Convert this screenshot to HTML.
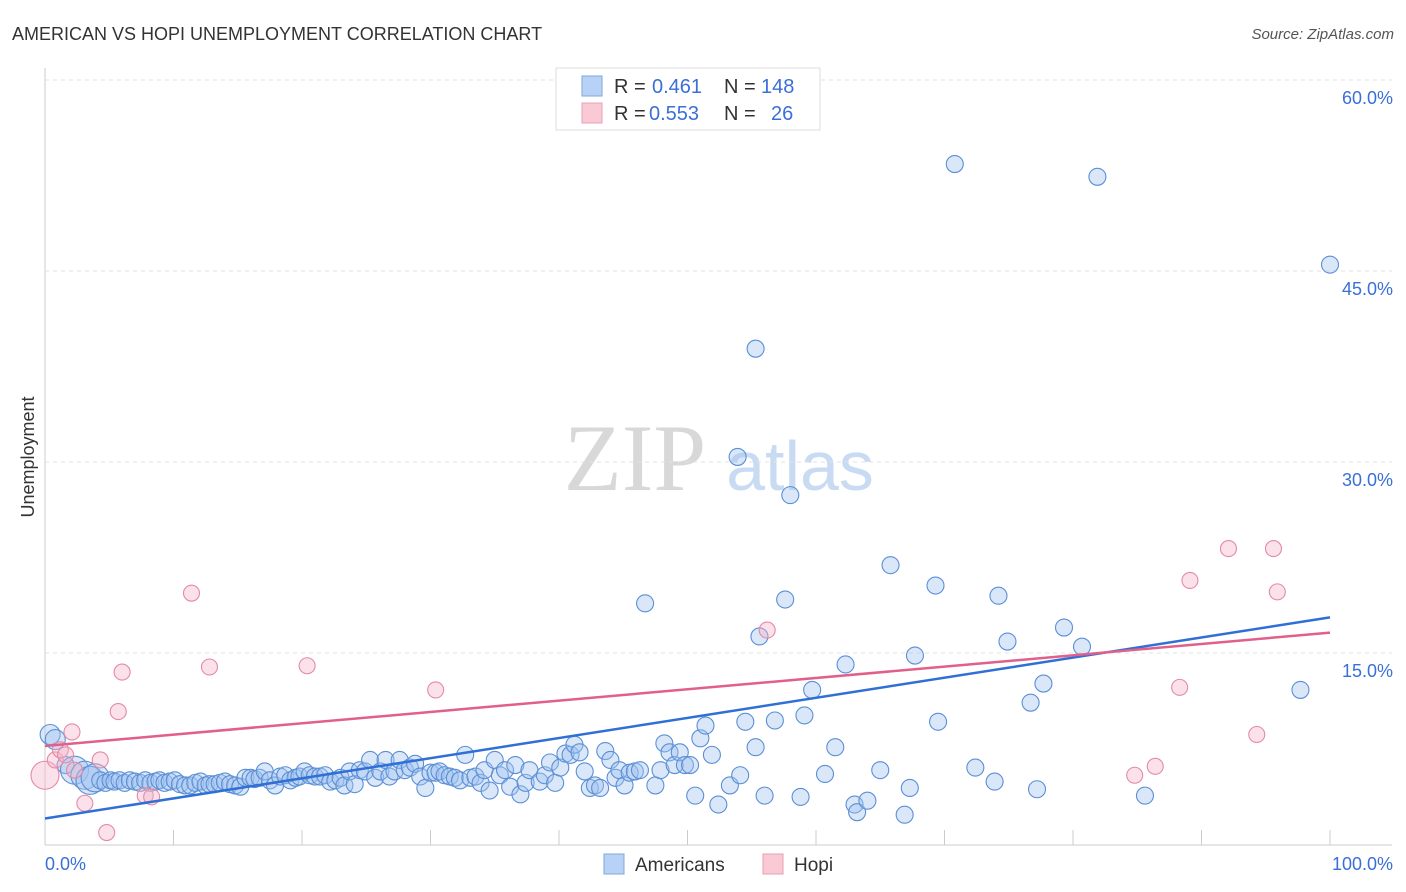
<!DOCTYPE html>
<html><head><meta charset="utf-8"><style>
body{margin:0;background:#fff;font-family:"Liberation Sans",sans-serif;}
svg{display:block}
</style></head><body>
<svg id="chart" width="1406" height="892" xmlns="http://www.w3.org/2000/svg">
<text x="12" y="40" font-size="18" fill="#333">AMERICAN VS HOPI UNEMPLOYMENT CORRELATION CHART</text>
<text x="1394" y="39" font-size="15" fill="#555" font-style="italic" text-anchor="end">Source: ZipAtlas.com</text>
<text x="34" y="457" font-size="18" fill="#333" transform="rotate(-90 34 457)" text-anchor="middle">Unemployment</text>
<g>
<text x="635" y="490" font-size="95" fill="#d8d8d8" font-family="Liberation Serif,serif" text-anchor="middle">ZIP</text>
<text x="800" y="490" font-size="70" fill="#c9dbf3" text-anchor="middle">atlas</text>
</g>
<g id="grid"></g><g id="lines"></g><g id="pts"></g>
<g>
<rect x="556" y="68" width="264" height="62" fill="#fff" stroke="#ddd"/>
<rect x="582" y="76" width="20" height="20" fill="#b8d2f5" stroke="#7fa7e0"/>
<rect x="582" y="103" width="20" height="20" fill="#f9c9d6" stroke="#e8a0b6"/>
<g font-size="20" fill="#333">
<text x="614" y="93">R =</text><text x="652" y="93" fill="#3a6fd8">0.461</text><text x="724" y="93">N =</text><text x="761" y="93" fill="#3a6fd8">148</text>
<text x="614" y="120">R =</text><text x="649" y="120" fill="#3a6fd8">0.553</text><text x="724" y="120">N =</text><text x="771" y="120" fill="#3a6fd8">26</text>
</g>
</g>
<g>
<rect x="604" y="854" width="20" height="20" fill="#b8d2f5" stroke="#7fa7e0"/>
<text x="635" y="871" font-size="19" fill="#333">Americans</text>
<rect x="763" y="854" width="20" height="20" fill="#f9c9d6" stroke="#e8a0b6"/>
<text x="794" y="871" font-size="19" fill="#333">Hopi</text>
</g>
</svg>
<script>
const blueX=[0.4,0.8,1.6,2.3,3.1,3.5,3.9,4.3,4.7,5.1,5.4,5.8,6.2,6.6,7.0,7.4,7.8,8.2,8.6,8.9,9.3,9.7,10.1,10.5,10.9,11.3,11.7,12.1,12.5,12.8,13.2,13.6,14.0,14.4,14.8,15.2,15.6,16.0,16.3,16.7,17.1,17.5,17.9,18.3,18.7,19.1,19.5,19.8,20.2,20.6,21.0,21.4,21.8,22.2,22.6,23.0,23.3,23.7,24.1,24.5,24.9,25.3,25.7,26.1,26.5,26.8,27.2,27.6,28.0,28.4,28.8,29.2,29.6,30.0,30.4,30.7,31.1,31.5,31.9,32.3,32.7,33.1,33.5,33.9,34.2,34.6,35.0,35.4,35.8,36.2,36.6,37.0,37.4,37.7,38.5,38.9,39.3,39.7,40.1,40.5,40.9,41.2,41.6,42.0,42.4,42.8,43.2,43.6,44.0,44.4,44.7,45.1,45.5,45.9,46.3,46.7,47.5,47.9,48.2,48.6,49.0,49.4,49.8,50.2,50.6,51.0,51.4,51.9,52.4,53.3,53.9,54.1,54.5,55.3,55.3,55.6,56.0,56.8,57.6,58.0,58.8,59.1,59.7,60.7,61.5,62.3,63.0,63.2,64.0,65.0,65.8,66.9,67.3,67.7,69.3,69.5,70.8,72.4,73.9,74.2,74.9,76.7,77.2,77.7,79.3,80.7,81.9,85.6,97.7,100];
const blueY=[8.6,8.2,6.2,5.8,5.4,5.0,5.2,5.0,4.8,5.0,4.9,5.0,4.8,5.0,4.9,4.8,5.0,4.8,4.9,5.0,4.8,4.9,5.0,4.7,4.6,4.6,4.8,4.9,4.6,4.7,4.7,4.8,4.9,4.7,4.6,4.5,5.2,5.2,5.1,5.2,5.7,5.0,4.6,5.3,5.4,5.0,5.2,5.3,5.7,5.4,5.3,5.3,5.4,4.9,5.0,5.2,4.6,5.7,4.7,5.8,5.7,6.6,5.2,5.7,6.6,5.3,5.7,6.6,5.8,6.0,6.3,5.3,4.4,5.6,5.6,5.7,5.4,5.3,5.2,5.0,7.0,5.2,5.3,4.8,5.8,4.2,6.6,5.4,5.8,4.5,6.2,3.9,4.8,5.8,4.9,5.4,6.4,4.8,6.0,7.1,7.0,7.8,7.2,5.7,4.4,4.6,4.4,7.3,6.6,5.2,5.8,4.6,5.6,5.7,5.8,18.9,4.6,5.8,7.9,7.2,6.2,7.2,6.2,6.2,3.8,8.3,9.3,7.0,3.1,4.6,30.4,5.4,9.6,38.9,7.6,16.3,3.8,9.7,19.2,27.4,3.7,10.1,12.1,5.5,7.6,14.1,3.1,2.5,3.4,5.8,21.9,2.3,4.4,14.8,20.3,9.6,53.4,6.0,4.9,19.5,15.9,11.1,4.3,12.6,17.0,15.5,52.4,3.8,12.1,45.5];
const pinkX=[0,0.8,1.2,1.6,2.1,2.3,3.1,4.3,4.8,5.7,6.0,7.8,8.3,11.4,12.8,20.4,30.4,56.2,84.8,86.4,88.3,89.1,92.1,94.3,95.6,95.9];
const pinkY=[5.4,6.6,7.4,7.0,8.8,5.8,3.2,6.6,0.9,10.4,13.5,3.8,3.7,19.7,13.9,14.0,12.1,16.8,5.4,6.1,12.3,20.7,23.2,8.6,23.2,19.8];
const blueLine=[2.0,17.8];
const pinkLine=[7.7,16.6];
const yTicks=[15,30,45,60];
const yTickLabels=["15.0%","30.0%","45.0%","60.0%"];
const xTicks=[0,10,20,30,40,50,60,70,80,90,100];

const NS="http://www.w3.org/2000/svg";
const X=v=>45+v*12.85, Y=v=>844-v*12.733;
function mk(p,t,a){const e=document.createElementNS(NS,t);for(const k in a)e.setAttribute(k,a[k]);p.appendChild(e);return e;}
const grid=document.getElementById('grid'),lines=document.getElementById('lines'),pts=document.getElementById('pts');
const yl=mk(grid,'line',{x1:45,y1:68,x2:45,y2:845,stroke:'#ccc'});


const xl=mk(grid,'line',{x1:45,y1:845,x2:1392,y2:845,stroke:'#ccc'});


yTicks.forEach((t,i)=>{
 const g=mk(grid,'line',{x1:45,y1:Y(t),x2:1392,y2:Y(t),stroke:'#e2e2e2','stroke-dasharray':'4,4'});
 
 
 const tx=mk(grid,'text',{x:1393,y:Y(t)+24,'font-size':18,fill:'#3a6fd8','text-anchor':'end'});
 tx.textContent=yTickLabels[i];
 
 
});
xTicks.forEach(t=>{
 const l=mk(grid,'line',{x1:X(t),y1:830,x2:X(t),y2:845,stroke:'#ccc'});
 
 
});
const x0=mk(grid,'text',{x:45,y:870,'font-size':18,fill:'#3a6fd8'});x0.textContent='0.0%';


const x1=mk(grid,'text',{x:1393,y:870,'font-size':18,fill:'#3a6fd8','text-anchor':'end'});x1.textContent='100.0%';



blueX.forEach((v,i)=>{
 const big=(v>=2&&v<=4)?14:(v<1?10:8.5);
 const c=mk(pts,'circle',{cx:X(v),cy:Y(blueY[i]),r:big,fill:'rgba(160,195,240,0.4)',stroke:'#5b8fd6','stroke-width':1.1});
 
 
});
pinkX.forEach((v,i)=>{
 const c=mk(pts,'circle',{cx:X(v),cy:Y(pinkY[i]),r:v===0?14:8,fill:'rgba(245,180,200,0.4)',stroke:'#e48aa5','stroke-width':1.1});
 
 
});
const bl=mk(lines,'line',{x1:X(0),y1:Y(blueLine[0]),x2:X(100),y2:Y(blueLine[1]),stroke:'#2f6fd6','stroke-width':2.5});


const pl=mk(lines,'line',{x1:X(0),y1:Y(pinkLine[0]),x2:X(100),y2:Y(pinkLine[1]),stroke:'#e0608a','stroke-width':2.5});


document.getElementById('chart').appendChild(lines);
</script>
</body></html>
